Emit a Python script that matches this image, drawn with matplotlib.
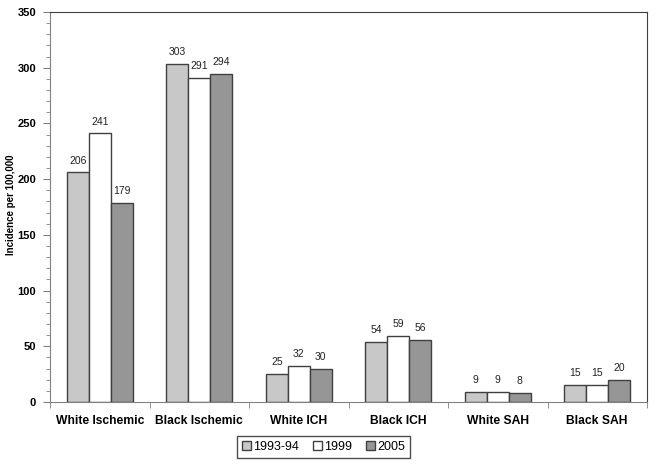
import matplotlib
matplotlib.use("Agg")
import matplotlib.pyplot as plt
import numpy as np
from matplotlib.ticker import MultipleLocator, FixedLocator

plt.rcParams['font.family'] = ['Liberation Sans', 'DejaVu Sans']

categories = ["White Ischemic", "Black Ischemic", "White ICH", "Black ICH", "White SAH", "Black SAH"]
series_names = ["1993-94", "1999", "2005"]
v_1993 = [206, 303, 25, 54, 9, 15]
v_1999 = [241, 291, 32, 59, 9, 15]
v_2005 = [179, 294, 30, 56, 8, 20]
values = [v_1993, v_1999, v_2005]
colors = ["#c8c8c8", "#ffffff", "#969696"]

fig = plt.figure(figsize=(6.56, 4.66), dpi=100)
ax = fig.add_axes([50/656, 64/466, 597/656, 390/466])

x = np.arange(len(categories))
w = 0.22
for i, (name, vals, c) in enumerate(zip(series_names, values, colors)):
    xs = x + (i - 1) * w
    ax.bar(xs, vals, width=w, color=c, edgecolor="#404040", linewidth=1.0, label=name, zorder=2)
    for xx, v in zip(xs, vals):
        ax.annotate(f"{v}", (xx, v), xytext=(0, 5), textcoords="offset points",
                    ha="center", va="bottom", fontsize=7.5, color="#222222")

ax.set_xlim(-0.5, len(categories) - 0.5)
ax.set_ylim(0, 350)
ax.yaxis.set_major_locator(MultipleLocator(50))
ax.yaxis.set_minor_locator(MultipleLocator(10))
ax.set_xticks(x)
ax.set_xticklabels(categories, fontsize=8.7, fontweight="bold")
ax.xaxis.set_minor_locator(FixedLocator(np.arange(-0.5, len(categories), 1.0)))
ax.tick_params(axis="x", which="major", length=0, pad=9)
ax.tick_params(axis="x", which="minor", length=4, color="#808080")
ax.tick_params(axis="y", which="major", length=5, color="#808080", labelsize=8, pad=5)
ax.tick_params(axis="y", which="minor", length=3, color="#808080")
for lab in ax.get_yticklabels():
    lab.set_fontweight("bold")

fig.text(11.5/656, 1 - 205/466, "Incidence per 100,000", rotation=90, ha="center", va="center",
         fontsize=7, fontweight="bold")

ax.spines["left"].set_color("#808080")
ax.spines["bottom"].set_color("#808080")
ax.spines["top"].set_color("#404040")
ax.spines["right"].set_color("#404040")

leg = ax.legend(loc="center", bbox_to_anchor=(323.5/656, 1 - 447/466), bbox_transform=fig.transFigure,
                ncol=3, fontsize=9, frameon=True, fancybox=False, edgecolor="#222222",
                handlelength=0.7, handleheight=0.7, handletextpad=0.2, columnspacing=1.1,
                borderpad=0.4, borderaxespad=0)
leg.get_frame().set_linewidth(1.0)

fig.savefig("out.png", dpi=100)
